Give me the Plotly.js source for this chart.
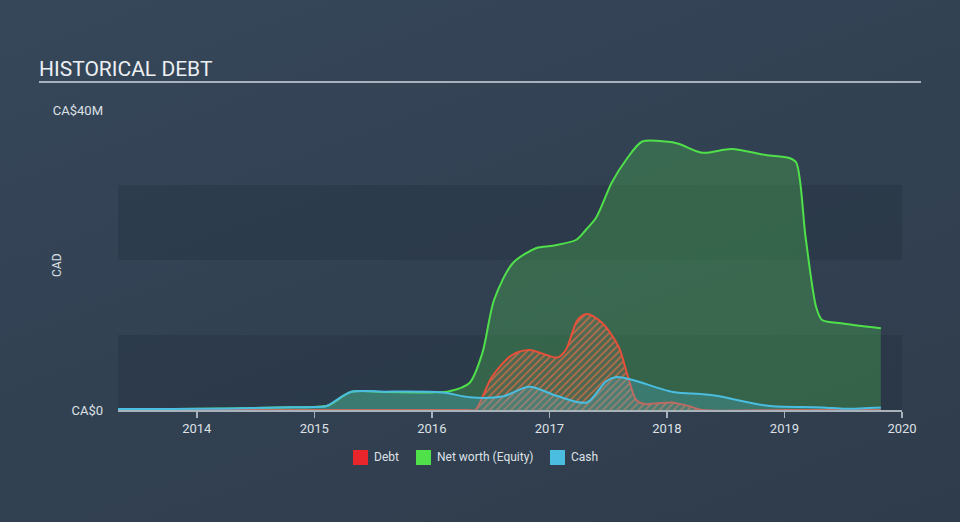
<!DOCTYPE html>
<html>
<head>
<meta charset="utf-8">
<script src="https://cdn.plot.ly/plotly-3.0.1.min.js"></script>
<style>
html,body{margin:0;padding:0;}
body{width:960px;height:522px;background:linear-gradient(160deg,#36475a 0%,#324152 50%,#2f3c4c 100%);}
#chart{width:960px;height:522px;}
</style>
</head>
<body>
<div id="chart"></div>
<script>
// Net worth (Equity), CA$M
const equityX = [2013.33, 2013.8, 2014.3, 2014.7, 2015.0, 2015.12, 2015.31, 2015.6, 2016.0, 2016.15, 2016.32, 2016.43, 2016.53, 2016.69, 2016.89, 2017.03, 2017.23, 2017.31, 2017.40, 2017.53, 2017.65, 2017.79, 2017.99, 2018.10, 2018.30, 2018.55, 2018.84, 2019.04, 2019.10, 2019.18, 2019.27, 2019.32, 2019.46, 2019.82];
const equityY = [0.15, 0.15, 0.2, 0.35, 0.4, 0.6, 2.4, 2.4, 2.35, 2.5, 3.6, 7.6, 14.7, 19.6, 21.6, 21.9, 22.7, 24.0, 25.7, 30.3, 33.3, 35.8, 35.8, 35.5, 34.3, 34.8, 34.0, 33.6, 33.0, 23.0, 13.7, 12.0, 11.6, 10.9];
// Debt, CA$M
const debtX = [2013.33, 2016.3, 2016.37, 2016.51, 2016.68, 2016.83, 2017.07, 2017.14, 2017.24, 2017.32, 2017.45, 2017.59, 2017.66, 2017.74, 2017.81, 2018.04, 2018.19, 2018.30, 2019.0, 2019.82];
const debtY = [0, 0, 0, 4.4, 7.3, 8.0, 7.0, 8.0, 12.0, 12.8, 11.6, 8.4, 4.9, 1.3, 0.8, 1.0, 0.5, 0, 0, 0];
// Cash, CA$M
const cashX = [2013.33, 2013.8, 2014.3, 2014.7, 2015.0, 2015.1, 2015.31, 2015.6, 2016.09, 2016.32, 2016.6, 2016.83, 2017.06, 2017.32, 2017.48, 2017.57, 2017.71, 2018.05, 2018.22, 2018.42, 2018.76, 2018.90, 2019.32, 2019.52, 2019.82];
const cashY = [0.15, 0.15, 0.2, 0.35, 0.4, 0.5, 2.4, 2.45, 2.35, 1.7, 1.8, 3.1, 1.9, 1.0, 3.8, 4.4, 4.0, 2.4, 2.2, 1.9, 0.8, 0.5, 0.35, 0.17, 0.35];

const yTickVals = [0, 40];
const yTickText = ['CA$0', 'CA$40M'];
const xTickVals = [2014, 2015, 2016, 2017, 2018, 2019, 2020];
const xTickText = ['2014', '2015', '2016', '2017', '2018', '2019', '2020'];

const legendNames = ['Debt', 'Net worth (Equity)', 'Cash'];
const legendColors = ['#e8262b', '#4fe04a', '#4bbde0'];
const legendLeft = [353, 416, 550]; // px positions of legend squares

const txt = '#dde1e6';
const traces = [
  {x: equityX, y: equityY, type: 'scatter', mode: 'lines', fill: 'tozeroy', name: 'Net worth (Equity)',
   line: {color: '#4fe04a', width: 2, shape: 'spline', smoothing: 0.8},
   fillcolor: 'rgba(70,170,80,0.38)', showlegend: false, hoverinfo: 'skip'},
  {x: debtX, y: debtY, type: 'scatter', mode: 'lines', fill: 'tozeroy', name: 'Debt',
   line: {color: '#e8503a', width: 2, shape: 'spline', smoothing: 0.8},
   fillcolor: 'rgba(0,0,0,0)',
   fillpattern: {shape: '/', fgcolor: 'rgba(232,110,70,0.75)', bgcolor: 'rgba(150,110,90,0.25)', size: 5, solidity: 0.3},
   showlegend: false, hoverinfo: 'skip'},
  {x: cashX, y: cashY, type: 'scatter', mode: 'lines', fill: 'tozeroy', name: 'Cash',
   line: {color: '#4bbde0', width: 2, shape: 'spline', smoothing: 0.8},
   fillcolor: 'rgba(75,180,210,0.28)', showlegend: false, hoverinfo: 'skip'}
];

const W = 784, H = 300, L = 118, T = 110;
const px = v => (v - L) / W;
const py = v => (T + H - v) / H;

const shapes = [
  {type: 'rect', xref: 'paper', yref: 'y', x0: 0, x1: 1, y0: 0, y1: 10,
   fillcolor: 'rgba(25,35,48,0.22)', line: {width: 0}, layer: 'below'},
  {type: 'rect', xref: 'paper', yref: 'y', x0: 0, x1: 1, y0: 20, y1: 30,
   fillcolor: 'rgba(25,35,48,0.22)', line: {width: 0}, layer: 'below'},
  {type: 'line', xref: 'paper', yref: 'paper', x0: px(39), x1: px(921), y0: py(82), y1: py(82),
   line: {color: '#a9b1bb', width: 2}}
];
const annotations = [
  {text: 'HISTORICAL DEBT', xref: 'paper', yref: 'paper', x: px(37), y: py(69), xanchor: 'left', yanchor: 'middle',
   showarrow: false, font: {size: 21, color: '#eceff2'}},
  {text: 'CAD', xref: 'paper', yref: 'paper', x: px(57), y: py(265), textangle: -90, xanchor: 'center', yanchor: 'middle',
   showarrow: false, font: {size: 12, color: txt}}
];
legendNames.forEach((n, i) => {
  shapes.push({type: 'rect', xref: 'paper', yref: 'paper', x0: px(legendLeft[i]), x1: px(legendLeft[i] + 15),
    y0: py(450), y1: py(465), fillcolor: legendColors[i], line: {width: 0}});
  annotations.push({text: n, xref: 'paper', yref: 'paper', x: px(legendLeft[i] + 19), y: py(457.5),
    xanchor: 'left', yanchor: 'middle', showarrow: false, font: {size: 12, color: txt}});
});

const layout = {
  width: 960, height: 522,
  paper_bgcolor: 'rgba(0,0,0,0)', plot_bgcolor: 'rgba(0,0,0,0)',
  font: {family: 'Roboto, sans-serif', color: txt, size: 12},
  margin: {l: L, r: 960 - L - W, t: T, b: 522 - T - H},
  showlegend: false,
  xaxis: {range: [2013.33, 2020.0], tickvals: xTickVals, ticktext: xTickText,
          showgrid: false, zeroline: false, showline: true, linecolor: '#a9b1bb', linewidth: 1.5,
          ticks: 'outside', ticklen: 6, tickcolor: '#a9b1bb', tickwidth: 1.5,
          tickfont: {size: 13, color: txt}, fixedrange: true},
  yaxis: {range: [0, 40], tickvals: yTickVals, ticktext: yTickText,
          showgrid: false, zeroline: false, showline: false, ticks: '',
          ticklabelstandoff: 14,
          tickfont: {size: 13, color: txt}, fixedrange: true},
  shapes: shapes,
  annotations: annotations
};

Plotly.newPlot('chart', traces, layout, {displayModeBar: false, staticPlot: true});
</script>
</body>
</html>
